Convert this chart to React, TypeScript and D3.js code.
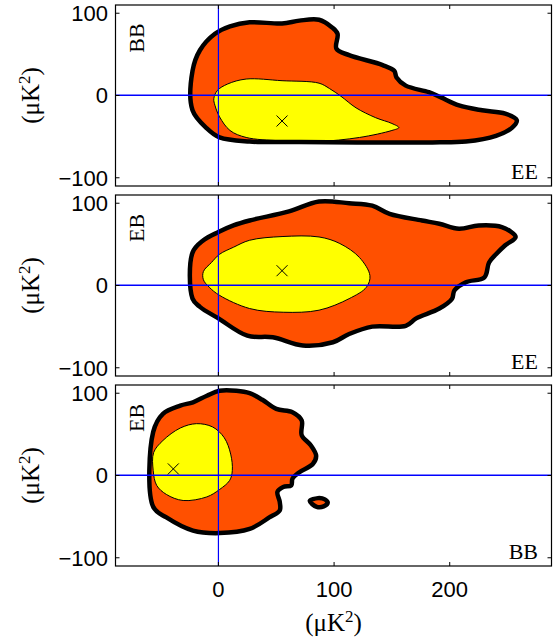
import React from 'react';
import * as d3 from 'd3';

type Pt = [number, number];

// axis ticks
const xTicks = [0, 100, 200];
const yTicks = [-100, 0, 100];

// panel 1: BB against EE
const bbEeOuter: Pt[] = [
	[-22.4, -18], [-22.4, 30], [-16, 55], [-3, 75], [10, 84], [27, 89], [55, 87.5], [70, 91],
	[87, 92], [98, 83], [103, 75], [102, 57], [113, 49], [142, 37], [152, 30], [154, 22],
	[162, 12], [182, 4], [192, -2], [208, -12], [228, -18], [248, -22], [258, -30], [254, -39],
	[240, -49], [214, -56], [185, -57], [120, -57], [70, -56.5], [27, -56], [1, -51], [-10, -40],
];
const bbEeInner: Pt[] = [
	[-4, -4], [-1, 6], [8, 14], [24, 20], [55, 18], [87, 15], [96, 8.5], [106, -1], [119, -15],
	[136, -27], [150, -34], [156, -39], [150, -42.5], [122, -51], [85, -56], [53, -55], [24, -51],
	[10, -42.5], [1, -26], [-3, -12],
];
const bbEeBest: Pt = [55, -31];

// panel 2: EB against EE
const ebEeOuter: Pt[] = [
	[-22.4, -16], [-22.4, 40], [-13, 55], [0, 65], [13, 73], [27, 79], [61, 90], [87, 102],
	[113, 100], [133, 97], [148, 87], [176, 79], [191, 75], [208, 69], [225, 73], [245, 71],
	[257, 59], [248, 49], [240, 38], [234, 28], [230, 10], [214, 4], [204, -6], [202, -16],
	[191, -28], [171, -40], [162, -49], [133, -50], [113, -59], [99, -69], [73, -73], [47, -63],
	[25, -61], [0, -40], [-16, -26],
];
const ebEeInner: Pt[] = [
	[-13, 7], [-13, 17], [-6, 28], [1, 38], [13, 46.5], [27, 55], [55, 59.5], [87, 59], [105, 51],
	[122, 34], [131, 12], [128, -2], [113, -16], [87, -30], [56, -32.5], [27, -28], [1, -12],
	[-8, -2],
];
const ebEeBest: Pt = [55, 18];

// panel 3: EB against BB
const ebBbOuter: Pt[] = [
	[-56.4, -38], [-56.4, 53], [-48, 75], [-33, 85], [-22, 89], [-10, 97], [1, 103], [15.5, 103],
	[27, 100], [38, 92], [50, 81], [64, 77], [72, 67], [72, 49], [80, 36.5], [84.5, 24],
	[81.6, 14], [70, 4], [64, -4], [63, -12], [56, -14], [51, -20], [53, -32], [53, -42.5],
	[44, -51], [27, -65], [1, -70], [-22, -67], [-45, -51],
];
const ebBbInner: Pt[] = [
	[-56, 28], [-48, 42.5], [-33, 57.7], [-19, 63], [-5, 59], [5, 46], [10.6, 26], [12, 6],
	[9.7, -6], [1, -17], [-10, -26], [-30.5, -30.4], [-45, -23], [-53.4, -12], [-56.4, 6],
];
const ebBbIsland: Pt[] = [[79, -31], [86, -27.5], [92, -29], [94.5, -33], [91, -37.5], [85, -38]];
const ebBbBest: Pt = [-39, 8];

const panels = [
	{ yName: 'BB', xName: 'EE', outer: [bbEeOuter], inner: bbEeInner, best: bbEeBest },
	{ yName: 'EB', xName: 'EE', outer: [ebEeOuter], inner: ebEeInner, best: ebEeBest },
	{ yName: 'EB', xName: 'BB', outer: [ebBbOuter, ebBbIsland], inner: ebBbInner, best: ebBbBest },
];

const W = 553;
const H = 639;
const left = 115.5;
const right = 551.5;
const panelTops = [5, 195, 385];
const panelH = 181;

const sans = '"Liberation Sans", Arial, sans-serif';
const serif = '"Liberation Serif", "Times New Roman", serif';

const Unit = () => (
	<>
		(μK<tspan dy={-9} fontSize={17}>2</tspan>
		<tspan dy={9}>)</tspan>
	</>
);

export default function App() {
	const x = d3.scaleLinear().domain([-89, 288]).range([left, right]);
	const y = d3.scaleLinear().domain([-110, 110]).range([panelH, 0]);
	const line = d3
		.line<Pt>()
		.x((d) => x(d[0]))
		.y((d) => y(d[1]))
		.curve(d3.curveCatmullRomClosed.alpha(0.5));
	const fmt = (v: number) => (v < 0 ? '\u2212' + Math.abs(v) : String(v));
	const tick = 4;

	return (
		<svg width={W} height={H} style={{ position: 'absolute', left: 0, top: 0 }}>
			<rect width={W} height={H} fill='white' />
			{panels.map((p, i) => {
				const top = panelTops[i];
				return (
					<g key={i} transform={`translate(0,${top})`}>
						<defs>
							<clipPath id={`clip${i}`}>
								<rect x={left} y={0} width={right - left} height={panelH} />
							</clipPath>
						</defs>
						<g clipPath={`url(#clip${i})`}>
							{/* 95% region fill */}
							{p.outer.map((o, j) => (
								<path key={'of' + j} d={line(o) || ''} fill='#ff5000' />
							))}
							{/* 68% region */}
							<path d={line(p.inner) || ''} fill='#ffff00' stroke='black' strokeWidth={1} />
							{p.outer.map((o, j) => (
								<path
									key={'os' + j}
									d={line(o) || ''}
									fill='none'
									stroke='black'
									strokeWidth={4.5}
									strokeLinejoin='round'
								/>
							))}
							{/* zero lines */}
							<line x1={x(0)} x2={x(0)} y1={0} y2={panelH} stroke='#0000ff' strokeWidth={1.2} />
							<line x1={left} x2={right} y1={y(0) - 0.3} y2={y(0) - 0.3} stroke='#0000ff' strokeWidth={1.4} />
							{/* best fit */}
							<g transform={`translate(${x(p.best[0])},${y(p.best[1])})`} stroke='black' strokeWidth={1}>
								<line x1={-5.5} y1={-5.5} x2={5.5} y2={5.5} />
								<line x1={-5.5} y1={5.5} x2={5.5} y2={-5.5} />
							</g>
						</g>
						{/* frame */}
						<rect x={left} y={0} width={right - left} height={panelH} fill='none' stroke='black' strokeWidth={1.2} />
						{xTicks.map((t) => (
							<g key={'xt' + t} stroke='black' strokeWidth={1}>
								<line x1={x(t)} x2={x(t)} y1={0} y2={tick} />
								<line x1={x(t)} x2={x(t)} y1={panelH} y2={panelH - tick} />
							</g>
						))}
						{yTicks.map((t) => (
							<g key={'yt' + t}>
								<line x1={left} x2={left + tick} y1={y(t)} y2={y(t)} stroke='black' />
								<line x1={right} x2={right - tick} y1={y(t)} y2={y(t)} stroke='black' />
								<text x={108} y={y(t)} dy='0.36em' textAnchor='end' fontFamily={sans} fontSize={22}>
									{fmt(t)}
								</text>
							</g>
						))}
						<text
							transform={`translate(38.5,${panelH / 2}) rotate(-90)`}
							textAnchor='middle'
							fontFamily={serif}
							fontSize={25}
						>
							<Unit />
						</text>
						<text
							transform={`translate(144,33) rotate(-90)`}
							textAnchor='middle'
							fontFamily={serif}
							fontSize={22}
						>
							{p.yName}
						</text>
						<text x={538} y={panelH - 7} textAnchor='end' fontFamily={serif} fontSize={22}>
							{p.xName}
						</text>
					</g>
				);
			})}
			{xTicks.map((t) => (
				<text key={'xl' + t} x={x(t)} y={597} textAnchor='middle' fontFamily={sans} fontSize={22}>
					{fmt(t)}
				</text>
			))}
			<text x={(left + right) / 2} y={631} textAnchor='middle' fontFamily={serif} fontSize={25}>
				<Unit />
			</text>
		</svg>
	);
}
